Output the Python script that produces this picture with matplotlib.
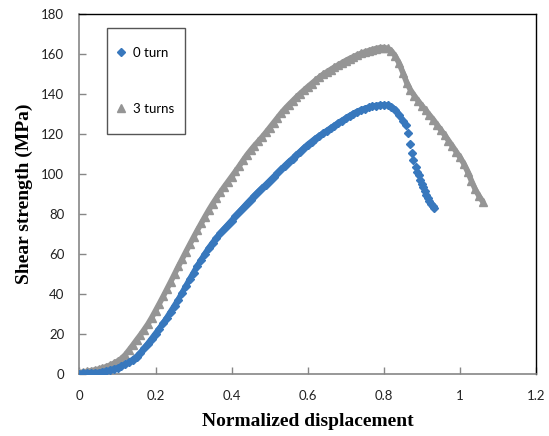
import numpy as np
import matplotlib
matplotlib.use('Agg')
import matplotlib.pyplot as plt
from matplotlib.patches import Rectangle
from matplotlib.ticker import MultipleLocator, FormatStrFormatter

#%% Data
# 0 turn: dense part (step 0.01) then the sparse drop after the peak
disp_0turn = [
    0.00, 0.01, 0.02, 0.03, 0.04, 0.05, 0.06, 0.07, 0.08, 0.09,
    0.10, 0.11, 0.12, 0.13, 0.14, 0.15, 0.16, 0.17, 0.18, 0.19,
    0.20, 0.21, 0.22, 0.23, 0.24, 0.25, 0.26, 0.27, 0.28, 0.29,
    0.30, 0.31, 0.32, 0.33, 0.34, 0.35, 0.36, 0.37, 0.38, 0.39,
    0.40, 0.41, 0.42, 0.43, 0.44, 0.45, 0.46, 0.47, 0.48, 0.49,
    0.50, 0.51, 0.52, 0.53, 0.54, 0.55, 0.56, 0.57, 0.58, 0.59,
    0.60, 0.61, 0.62, 0.63, 0.64, 0.65, 0.66, 0.67, 0.68, 0.69,
    0.70, 0.71, 0.72, 0.73, 0.74, 0.75, 0.76, 0.77, 0.78, 0.79,
    0.80, 0.81, 0.82, 0.83, 0.84, 0.85,
]
shear_0turn = [
    0.0, 0.1, 0.2, 0.3, 0.4, 0.5, 0.8, 1.2, 1.6, 2.2,
    2.8, 3.6, 4.6, 5.6, 7.0, 8.5, 10.3, 12.6, 15.0, 17.5,
    20.0, 22.5, 25.2, 28.0, 31.0, 34.0, 37.0, 40.4, 43.8, 47.2,
    50.5, 53.8, 56.9, 59.9, 62.8, 65.4, 67.8, 70.1, 72.3, 74.4,
    76.5, 78.7, 80.8, 82.9, 85.0, 87.0, 89.0, 90.9, 92.7, 94.5,
    96.4, 98.3, 100.2, 102.1, 104.0, 105.8, 107.5, 109.3, 111.0, 112.8,
    114.5, 116.0, 117.5, 118.8, 120.1, 121.4, 122.7, 124.0, 125.3, 126.5,
    127.7, 128.9, 130.0, 131.0, 131.8, 132.5, 133.1, 133.6, 134.0, 134.2,
    134.3, 134.1, 133.4, 132.0, 129.5, 126.5,
]
disp_0turn_drop = [
    0.857, 0.864, 0.868, 0.873, 0.878, 0.884, 0.888, 0.892, 0.896,
    0.900, 0.904, 0.908, 0.912, 0.916, 0.920, 0.924, 0.928, 0.931,
]
shear_0turn_drop = [
    124.5, 120.2, 114.8, 110.5, 106.8, 103.3, 101.0, 99.2, 97.0,
    95.0, 93.2, 91.3, 89.5, 87.8, 86.2, 84.8, 83.6, 82.6,
]

# 3 turns (step 0.01)
disp_3turns = [
    0.00, 0.01, 0.02, 0.03, 0.04, 0.05, 0.06, 0.07, 0.08, 0.09,
    0.10, 0.11, 0.12, 0.13, 0.14, 0.15, 0.16, 0.17, 0.18, 0.19,
    0.20, 0.21, 0.22, 0.23, 0.24, 0.25, 0.26, 0.27, 0.28, 0.29,
    0.30, 0.31, 0.32, 0.33, 0.34, 0.35, 0.36, 0.37, 0.38, 0.39,
    0.40, 0.41, 0.42, 0.43, 0.44, 0.45, 0.46, 0.47, 0.48, 0.49,
    0.50, 0.51, 0.52, 0.53, 0.54, 0.55, 0.56, 0.57, 0.58, 0.59,
    0.60, 0.61, 0.62, 0.63, 0.64, 0.65, 0.66, 0.67, 0.68, 0.69,
    0.70, 0.71, 0.72, 0.73, 0.74, 0.75, 0.76, 0.77, 0.78, 0.79,
    0.80, 0.81, 0.82, 0.83, 0.84, 0.85, 0.86, 0.87, 0.88, 0.89,
    0.90, 0.91, 0.92, 0.93, 0.94, 0.95, 0.96, 0.97, 0.98, 0.99,
    1.00, 1.01, 1.02, 1.03, 1.04, 1.05, 1.06,
]
shear_3turns = [
    0.5, 0.8, 1.1, 1.4, 1.8, 2.2, 2.8, 3.4, 4.2, 5.1,
    6.2, 7.5, 9.3, 11.7, 14.2, 16.8, 19.3, 22.0, 24.8, 28.0,
    31.5, 35.0, 38.6, 42.3, 46.0, 49.8, 53.6, 57.3, 61.0, 64.6,
    68.2, 71.7, 75.1, 78.5, 81.8, 84.9, 87.8, 90.6, 93.3, 95.9,
    98.5, 101.1, 103.8, 106.6, 109.3, 111.7, 114.0, 116.1, 118.3, 120.6,
    123.0, 125.4, 127.8, 130.2, 132.4, 134.4, 136.3, 138.2, 140.0, 141.7,
    143.4, 145.0, 146.6, 148.1, 149.6, 150.8, 152.0, 153.2, 154.3, 155.4,
    156.5, 157.5, 158.4, 159.3, 160.1, 160.8, 161.4, 162.0, 162.5, 162.9,
    163.0, 162.6, 161.3, 158.8, 155.2, 150.5, 145.5, 141.8, 139.0, 136.4,
    134.0, 131.6, 129.3, 127.0, 124.4, 121.8, 119.2, 116.5, 113.8, 111.0,
    108.2, 105.0, 101.0, 96.5, 92.2, 88.8, 86.0,
]

label_0turn = '0 turn'
label_3turns = '3 turns'

#%% Style
blue = '#3878bd'
gray = '#959595'
tickfont = ['Lato', 'DejaVu Sans']
labelfont = ['Liberation Serif', 'DejaVu Serif']

#%% Plot
f = plt.figure(figsize=(5.49, 4.36), dpi=100)
ax = f.add_axes([0.1448, 0.1433, 0.9763 - 0.1448, 0.969 - 0.1433])

# thick underlay so the dense markers read as a band
ax.plot(disp_3turns, shear_3turns, color=gray, lw=4.0, solid_capstyle='round', zorder=2)
ax.plot(disp_3turns, shear_3turns, ls='none', marker='^', ms=5.5, color=gray,
        mec=gray, zorder=3)
ax.plot(disp_0turn, shear_0turn, color=blue, lw=4.2, solid_capstyle='round', zorder=4)
ax.plot(disp_0turn, shear_0turn, ls='none', marker='D', ms=3.6, color=blue,
        mec=blue, zorder=5)
ax.plot(disp_0turn_drop, shear_0turn_drop, ls='none', marker='D', ms=3.8, color=blue,
        mec=blue, zorder=5)

ax.set_xlim(0, 1.2)
ax.set_ylim(0, 180)
ax.xaxis.set_major_locator(MultipleLocator(0.2))
ax.yaxis.set_major_locator(MultipleLocator(20))
ax.xaxis.set_major_formatter(FormatStrFormatter('%g'))
ax.yaxis.set_major_formatter(FormatStrFormatter('%g'))
ax.tick_params(direction='in', length=5, width=1, color='#868686', labelsize=9.5)
ax.tick_params(axis='x', pad=12)
ax.tick_params(axis='y', pad=11)
for lab in ax.get_xticklabels() + ax.get_yticklabels():
    lab.set_family(tickfont)
    lab.set_color('#222222')

for side in ['left', 'bottom']:
    ax.spines[side].set_color('#868686')
    ax.spines[side].set_linewidth(1.2)
for side in ['top', 'right']:
    ax.spines[side].set_color('black')
    ax.spines[side].set_linewidth(1.0)

ax.set_xlabel('Normalized displacement', family=labelfont, weight='bold',
              fontsize=14, labelpad=8)
ax.set_ylabel('Shear strength (MPa)', family=labelfont, weight='bold',
              fontsize=14, labelpad=6)

# legend: frame drawn separately so the tall, narrow box can be matched
legbox = (0.0602, 0.6653, 0.1709, 0.2944)  # x0, y0, w, h in axes coords
ax.add_patch(Rectangle(legbox[:2], legbox[2], legbox[3], transform=ax.transAxes,
                       fill=True, facecolor='white', edgecolor='#555555', lw=1.0,
                       zorder=6))
h0 = plt.Line2D([], [], ls='none', marker='D', ms=3.8, color=blue)
h3 = plt.Line2D([], [], ls='none', marker='^', ms=5.5, color=gray)
leg = ax.legend(
    [h0, h3], [label_0turn, label_3turns],
    loc='center', bbox_to_anchor=(legbox[0] + legbox[2] / 2, legbox[1] + legbox[3] / 2),
    frameon=False, prop={'family': tickfont, 'size': 9.5},
    labelspacing=3.35, handlelength=0.6, handletextpad=0.6,
    borderpad=0, borderaxespad=0,
)
leg.set_zorder(7)

plt.savefig('out.png', dpi=100)
